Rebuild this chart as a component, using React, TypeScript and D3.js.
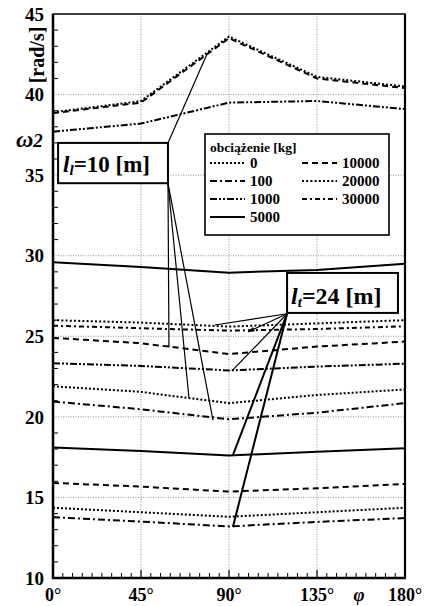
import * as d3 from "d3";

// kąt obrotu [deg]
const angles = [0, 45, 90, 135, 180];

// l = 10 m
const top0 = [38.9, 39.6, 43.6, 41.1, 40.5];
const top10000 = [38.85, 39.5, 43.5, 41.0, 40.4];
const upper1000 = [37.7, 38.2, 39.5, 39.6, 39.1];
const upper5000 = [29.6, 29.3, 28.95, 29.12, 29.5];
const mid10000 = [24.9, 24.57, 23.9, 24.36, 24.67];
const mid0 = [21.9, 21.55, 20.85, 21.36, 21.7];
const mid100 = [20.95, 20.47, 19.85, 20.26, 20.85];

// l = 24 m
const low20000 = [26.0, 25.85, 25.6, 25.8, 26.0];
const low30000 = [25.66, 25.5, 25.35, 25.45, 25.62];
const low1000 = [23.33, 23.16, 22.88, 23.12, 23.3];
const low5000 = [18.1, 17.88, 17.6, 17.84, 18.05];
const low10000 = [15.9, 15.67, 15.36, 15.57, 15.84];
const low0 = [14.36, 14.08, 13.8, 14.08, 14.36];
const low100 = [13.77, 13.5, 13.2, 13.48, 13.72];

const xTicks = [0, 45, 90, 135, 180];
const yTicks = [10, 15, 20, 25, 30, 35, 40, 45];

const dash: Record<string, string> = {
  dot: "2 2",
  dashdot: "7 3 2 3",
  dashdotdot: "7 2 2 2 2 2",
  solid: "none",
  dash: "6 4",
  dot2: "2 2.2",
  dashdot2: "5 3 2 3",
};

const series = [
  { values: top0, style: "dot" },
  { values: top10000, style: "dash" },
  { values: upper1000, style: "dashdotdot" },
  { values: upper5000, style: "solid" },
  { values: mid10000, style: "dash" },
  { values: mid0, style: "dot" },
  { values: mid100, style: "dashdot" },
  { values: low20000, style: "dot2" },
  { values: low30000, style: "dashdot2" },
  { values: low1000, style: "dashdotdot" },
  { values: low5000, style: "solid" },
  { values: low10000, style: "dash" },
  { values: low0, style: "dot" },
  { values: low100, style: "dashdot" },
];

const legendLabels = ["0", "100", "1000", "5000", "10000", "20000", "30000"];
const legendStyles = ["dot", "dashdot", "dashdotdot", "solid", "dash", "dot2", "dashdot2"];

// odnośniki: [phi, omega] początek -> koniec
const callouts10 = [
  [[58.8, 37.0], [78.7, 42.5]],
  [[58.8, 34.5], [59.3, 24.3]],
  [[58.8, 34.5], [69.5, 21.2]],
  [[58.8, 34.5], [81.8, 19.8]],
];
const callouts24 = [
  [[119.7, 26.4], [82.8, 25.7], 1.2],
  [[119.7, 26.4], [91.5, 22.85], 1.2],
  [[119.7, 26.4], [92, 17.63], 2],
  [[119.7, 26.4], [92, 13.17], 2],
];
const arrow24 = [[119.7, 26.4], [99.7, 25.27]];

const box10 = { x0: 2.6, x1: 58.8, y0: 37.0, y1: 34.5 };
const box24 = { x0: 119.7, x1: 176.4, y0: 28.93, y1: 26.45 };

const W = 425;
const H = 606;
const m = { left: 53, right: 20, top: 14, bottom: 28 };
const font = "'Liberation Serif', 'Times New Roman', serif";

export default function App() {
  const x = d3.scaleLinear().domain([0, 180]).range([m.left, W - m.right]);
  const y = d3.scaleLinear().domain([10, 45]).range([H - m.bottom, m.top]);
  const line = d3
    .line<number>()
    .x((_, i) => x(angles[i]))
    .y((d) => y(d));

  const minorX = d3.range(5, 180, 5).filter((v) => v % 45 !== 0);
  const minorY = d3.range(11, 45, 1).filter((v) => v % 5 !== 0);

  const bx = (b: typeof box10) => ({
    x: x(b.x0),
    y: y(b.y0),
    w: x(b.x1) - x(b.x0),
    h: y(b.y1) - y(b.y0),
  });
  const b10 = bx(box10);
  const b24 = bx(box24);

  const [a0, a1] = arrow24;
  const ax0 = x(a0[0]), ay0 = y(a0[1]), ax1 = x(a1[0]), ay1 = y(a1[1]);
  const ang = Math.atan2(ay1 - ay0, ax1 - ax0);
  const ah = 7;
  const head = [
    [ax1, ay1],
    [ax1 - ah * Math.cos(ang - 0.35), ay1 - ah * Math.sin(ang - 0.35)],
    [ax1 - ah * Math.cos(ang + 0.35), ay1 - ah * Math.sin(ang + 0.35)],
  ];

  const lx = x(0), rx = x(180), ty = y(45), by = y(10);

  return (
    <svg
      width={W}
      height={H}
      style={{ position: "absolute", left: 0, top: 0, background: "#fff" }}
      fontFamily={font}
    >
      {/* siatka */}
      {xTicks.slice(1, -1).map((t) => (
        <line key={"gx" + t} x1={x(t)} x2={x(t)} y1={ty} y2={by} stroke="#777" strokeWidth={0.8} strokeDasharray="1 1.5" />
      ))}
      {yTicks.slice(1, -1).map((t) => (
        <line key={"gy" + t} x1={lx} x2={rx} y1={y(t)} y2={y(t)} stroke="#777" strokeWidth={0.8} strokeDasharray="1 1.5" />
      ))}

      {/* krzywe */}
      {series.map((s, i) => (
        <path
          key={i}
          d={line(s.values) ?? ""}
          fill="none"
          stroke="#000"
          strokeWidth={2}
          strokeDasharray={dash[s.style]}
        />
      ))}

      {/* odnośniki l=10 */}
      {callouts10.map(([p, q], i) => (
        <line key={"c10" + i} x1={x(p[0])} y1={y(p[1])} x2={x(q[0])} y2={y(q[1])} stroke="#000" strokeWidth={1.2} />
      ))}
      {callouts24.map(([p, q, w], i) => (
        <line
          key={"c24" + i}
          x1={x((p as number[])[0])}
          y1={y((p as number[])[1])}
          x2={x((q as number[])[0])}
          y2={y((q as number[])[1])}
          stroke="#000"
          strokeWidth={w as number}
        />
      ))}
      <line x1={ax0} y1={ay0} x2={ax1} y2={ay1} stroke="#000" strokeWidth={1.2} />
      <polygon points={head.map((p) => p.join(",")).join(" ")} fill="#000" />

      {/* ramka i podziałki */}
      <rect x={lx} y={ty} width={rx - lx} height={by - ty} fill="none" stroke="#000" strokeWidth={1.5} />
      <line x1={lx} x2={lx} y1={ty} y2={by + 1} stroke="#000" strokeWidth={2.5} />
      <line x1={lx - 1} x2={rx + 1} y1={by} y2={by} stroke="#000" strokeWidth={2.5} />
      <line x1={rx} x2={rx} y1={ty} y2={by} stroke="#000" strokeWidth={2.2} />
      {minorX.map((t) => (
        <line key={"mx" + t} x1={x(t)} x2={x(t)} y1={by} y2={by - 5} stroke="#000" strokeWidth={1} />
      ))}
      {xTicks.map((t) => (
        <line key={"tx" + t} x1={x(t)} x2={x(t)} y1={by} y2={by - 8} stroke="#000" strokeWidth={1.2} />
      ))}
      {minorY.map((t) => (
        <line key={"my" + t} x1={lx} x2={lx + 5} y1={y(t)} y2={y(t)} stroke="#000" strokeWidth={1} />
      ))}

      {/* etykiety osi */}
      {yTicks.map((t) => (
        <text key={"ly" + t} x={44} y={y(t)} dy="0.35em" textAnchor="end" fontSize={19} fontWeight="bold">
          {t}
        </text>
      ))}
      {xTicks.map((t) => (
        <text key={"lx" + t} x={x(t)} y={601} textAnchor="middle" fontSize={18} fontWeight="bold">
          {t}°
        </text>
      ))}
      <text x={359} y={601} textAnchor="middle" fontSize={19} fontStyle="italic" fontWeight="bold">
        φ
      </text>
      <text transform="translate(44,55) rotate(-90)" textAnchor="middle" fontSize={20} fontWeight="bold">
        [rad/s]
      </text>
      <text x={16} y={147} fontSize={24} fontStyle="italic" fontWeight="bold">
        ω<tspan fontSize={19}>2</tspan>
      </text>

      {/* legenda */}
      <rect x={205} y={134} width={184} height={101} fill="#fff" stroke="#000" strokeWidth={1.6} />
      <text x={210} y={152} fontSize={13.5} fontWeight="bold">
        obciążenie [kg]
      </text>
      {legendLabels.map((lab, i) => {
        const col = i < 4 ? 0 : 1;
        const row = i < 4 ? i : i - 4;
        const x0 = col === 0 ? 210 : 302;
        const yy = 163 + row * 18;
        return (
          <g key={lab}>
            <line x1={x0} x2={x0 + 35} y1={yy} y2={yy} stroke="#000" strokeWidth={2} strokeDasharray={dash[legendStyles[i]]} />
            <text x={x0 + 40} y={yy} dy="0.35em" fontSize={15} fontWeight="bold">
              {lab}
            </text>
          </g>
        );
      })}

      {/* ramki opisów */}
      <rect x={b10.x} y={b10.y} width={b10.w} height={b10.h} fill="#fff" stroke="#000" strokeWidth={2} />
      <text x={b10.x + 5} y={b10.y + b10.h - 11} fontSize={23} fontWeight="bold">
        <tspan fontStyle="italic">l</tspan>
        <tspan fontStyle="italic" fontSize={15} dy={3}>l</tspan>
        <tspan dy={-3}>=10 [m]</tspan>
      </text>
      <rect x={b24.x} y={b24.y} width={b24.w} height={b24.h} fill="#fff" stroke="#000" strokeWidth={2} />
      <text x={b24.x + 4} y={b24.y + b24.h - 9} fontSize={24} fontWeight="bold">
        <tspan fontStyle="italic">l</tspan>
        <tspan fontStyle="italic" fontSize={15} dy={3}>t</tspan>
        <tspan dy={-3}>=24 [m]</tspan>
      </text>
    </svg>
  );
}
